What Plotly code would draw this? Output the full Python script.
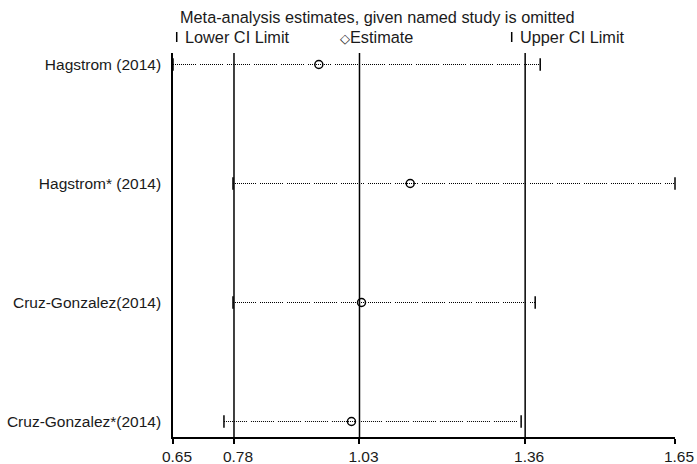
import plotly.graph_objects as go

# ---- data ----
studies = ["Hagstrom (2014)", "Hagstrom* (2014)", "Cruz-Gonzalez(2014)", "Cruz-Gonzalez*(2014)"]
estimate = [0.949, 1.131, 1.034, 1.014]
lower_ci = [0.6585, 0.778, 0.778, 0.760]
upper_ci = [1.390, 1.6585, 1.380, 1.352]

overall = [0.78, 1.03, 1.36]          # overall lower CI, estimate, upper CI
tick_labels = ["0.65", "0.78", "1.03", "1.36", "1.65"]

title_text = "Meta-analysis estimates, given named study is omitted"
legend_texts = ["Lower CI Limit", "Estimate", "Upper CI Limit"]

FONT = "Liberation Sans, Arial, sans-serif"
TXT = "#1a1a1a"

x_min = min(lower_ci)
x_max = max(upper_ci)
tick_vals = [x_min] + overall + [x_max]

# fine dotted groups, like the reference
dot_pattern = ",".join(["1px,1px"] * 11 + ["1px,4px"])

fig = go.Figure()

# dotted CI lines
for s, lo, hi in zip(studies, lower_ci, upper_ci):
    fig.add_trace(go.Scatter(
        x=[lo, hi], y=[s, s], mode="lines",
        line=dict(color="black", width=1.2, dash=dot_pattern),
        hoverinfo="skip", showlegend=False, cliponaxis=False))

# CI caps
fig.add_trace(go.Scatter(
    x=lower_ci + upper_ci, y=studies + studies, mode="markers",
    marker=dict(symbol="line-ns-open", size=9, color="black", line=dict(color="black", width=1.5)),
    showlegend=False, cliponaxis=False))

# estimates
fig.add_trace(go.Scatter(
    x=estimate, y=studies, mode="markers",
    marker=dict(symbol="circle-open", size=8, color="black", line=dict(color="black", width=1.5)),
    showlegend=False, cliponaxis=False))

# vertical reference lines at overall values
for v in overall:
    fig.add_shape(type="line", xref="x", yref="paper", x0=v, x1=v, y0=0, y1=1,
                  line=dict(color="black", width=1.5), layer="below")

# legend / title
TOPFONT = dict(family=FONT, size=16.3, color=TXT)
fig.add_annotation(xref="paper", yref="paper", x=0.0099, y=1.093, xanchor="left", yanchor="middle",
                   text=title_text, showarrow=False, font=TOPFONT)
fig.add_annotation(xref="paper", yref="paper", x=0.0205, y=1.042, xanchor="left", yanchor="middle",
                   text=legend_texts[0], showarrow=False, font=TOPFONT)
fig.add_annotation(xref="paper", yref="paper", x=0.3287, y=1.042, xanchor="left", yanchor="middle",
                   text="<span style='font-size:13px'>◇</span>" + legend_texts[1], showarrow=False,
                   font=TOPFONT)
fig.add_annotation(xref="paper", yref="paper", x=0.687, y=1.042, xanchor="left", yanchor="middle",
                   text=legend_texts[2], showarrow=False, font=TOPFONT)
for bx in (0.0074, 0.6747):
    fig.add_shape(type="line", xref="paper", yref="paper", x0=bx, x1=bx, y0=1.0286, y1=1.0547,
                  line=dict(color="black", width=1.5))

fig.update_layout(
    width=697, height=464,
    margin=dict(l=173, r=22, t=53, b=27),
    paper_bgcolor="white", plot_bgcolor="white",
    font=dict(family=FONT, size=15.5, color=TXT),
    showlegend=False,
    xaxis=dict(range=[x_min, x_max], tickvals=tick_vals, ticktext=tick_labels, automargin=False,
               showgrid=False, zeroline=False, showline=True, linecolor="black", linewidth=1.5,
               ticks="outside", ticklen=5, tickwidth=1.5, tickcolor="black",
               ticklabelshift=4, tickfont=dict(family=FONT, size=15.5, color=TXT)),
    yaxis=dict(type="category", categoryorder="array", categoryarray=studies, automargin=False,
               range=[3.13026, -0.09664], showgrid=False, zeroline=False,
               showline=True, linecolor="black", linewidth=1.5,
               ticks="outside", ticklen=7, tickcolor="rgba(0,0,0,0)",
               tickfont=dict(family=FONT, size=15.5, color=TXT)),
)

fig.write_html("out.html", config={"displayModeBar": False},
               post_script="document.body.style.margin='0';")
